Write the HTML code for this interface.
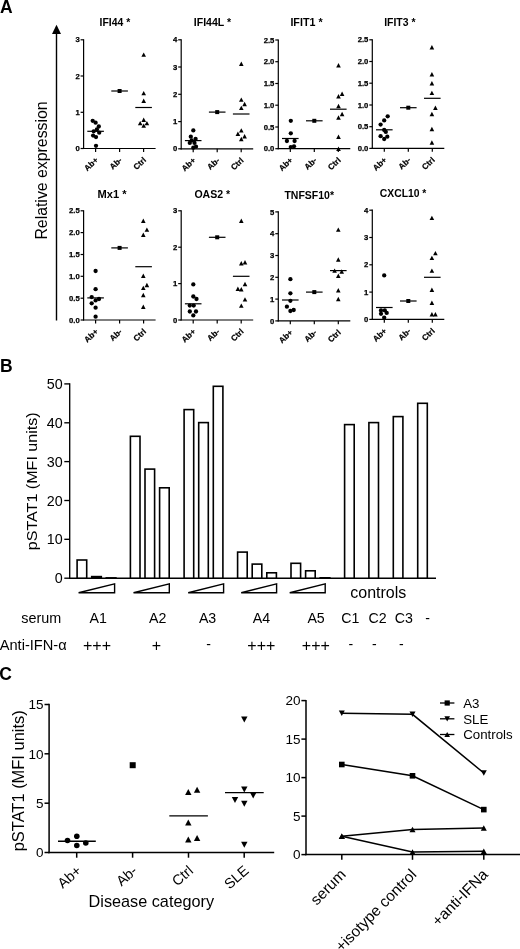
<!DOCTYPE html>
<html lang="en"><head><meta charset="utf-8"><title>Figure</title>
<style>html,body{margin:0;padding:0;background:#fff}svg{display:block;filter:blur(0.3px)}</style></head>
<body>
<svg width="520" height="949" viewBox="0 0 520 949" font-family="'Liberation Sans', sans-serif" fill="#000">
<rect width="520" height="949" fill="#fff"/>
<text x="0.1" y="12.6" font-size="17.5" font-weight="bold" text-anchor="start">A</text>
<text x="-0.1" y="371.6" font-size="17.5" font-weight="bold" text-anchor="start">B</text>
<text x="-0.8" y="679.5" font-size="17.5" font-weight="bold" text-anchor="start">C</text>
<line x1="56.5" y1="30.0" x2="56.5" y2="320.6" stroke="#000" stroke-width="1.4"/>
<polygon points="56.5,24.8 61,34 52,34"/>
<text x="47.0" y="239.6" font-size="16" text-anchor="start" transform="rotate(-90 47.0 239.6)" textLength="138.2" lengthAdjust="spacingAndGlyphs">Relative expression</text>
<line x1="83.6" y1="39.2" x2="83.6" y2="149.1" stroke="#000" stroke-width="1.2"/>
<line x1="83.0" y1="148.5" x2="155.6" y2="148.5" stroke="#000" stroke-width="1.2"/>
<line x1="80.6" y1="148.5" x2="83.6" y2="148.5" stroke="#000" stroke-width="1.2"/>
<text x="79.7" y="151.1" font-size="7.7" font-weight="bold" text-anchor="end" stroke="#000" stroke-width="0.25">0</text>
<line x1="80.6" y1="112.3" x2="83.6" y2="112.3" stroke="#000" stroke-width="1.2"/>
<text x="79.7" y="114.9" font-size="7.7" font-weight="bold" text-anchor="end" stroke="#000" stroke-width="0.25">1</text>
<line x1="80.6" y1="76.0" x2="83.6" y2="76.0" stroke="#000" stroke-width="1.2"/>
<text x="79.7" y="78.6" font-size="7.7" font-weight="bold" text-anchor="end" stroke="#000" stroke-width="0.25">2</text>
<line x1="80.6" y1="39.8" x2="83.6" y2="39.8" stroke="#000" stroke-width="1.2"/>
<text x="79.7" y="42.4" font-size="7.7" font-weight="bold" text-anchor="end" stroke="#000" stroke-width="0.25">3</text>
<line x1="95.6" y1="148.5" x2="95.6" y2="151.9" stroke="#000" stroke-width="1.2"/>
<text x="98.6" y="160.8" font-size="8.1" font-weight="bold" text-anchor="end" transform="rotate(-43 98.6 160.8)" stroke="#000" stroke-width="0.2">Ab+</text>
<line x1="119.6" y1="148.5" x2="119.6" y2="151.9" stroke="#000" stroke-width="1.2"/>
<text x="122.6" y="160.8" font-size="8.1" font-weight="bold" text-anchor="end" transform="rotate(-43 122.6 160.8)" stroke="#000" stroke-width="0.2">Ab-</text>
<line x1="143.6" y1="148.5" x2="143.6" y2="151.9" stroke="#000" stroke-width="1.2"/>
<text x="146.6" y="160.8" font-size="8.1" font-weight="bold" text-anchor="end" transform="rotate(-43 146.6 160.8)" stroke="#000" stroke-width="0.2">Ctrl</text>
<text x="99.6" y="26.2" font-size="10.4" font-weight="bold" text-anchor="start" textLength="30.6" lengthAdjust="spacingAndGlyphs">IFI44 *</text>
<circle cx="92.7" cy="120.8" r="2.15"/>
<circle cx="95.6" cy="122.7" r="2.15"/>
<circle cx="98.8" cy="126.5" r="2.15"/>
<circle cx="96.9" cy="129.4" r="2.15"/>
<circle cx="93.7" cy="131.3" r="2.15"/>
<circle cx="99.2" cy="132.7" r="2.15"/>
<circle cx="93.1" cy="135.6" r="2.15"/>
<circle cx="96.0" cy="137.1" r="2.15"/>
<circle cx="96.0" cy="145.8" r="2.15"/>
<line x1="87.3" y1="131.3" x2="103.9" y2="131.3" stroke="#000" stroke-width="1.2"/>
<rect x="117.6" y="89.0" width="4.0" height="4.0"/>
<line x1="111.3" y1="91.0" x2="127.9" y2="91.0" stroke="#000" stroke-width="1.2"/>
<polygon points="143.7,52.4 146.0,56.8 141.4,56.8"/>
<polygon points="143.7,90.9 146.0,95.3 141.4,95.3"/>
<polygon points="143.7,98.6 146.0,103.0 141.4,103.0"/>
<polygon points="143.7,117.6 146.0,122.0 141.4,122.0"/>
<polygon points="140.2,120.9 142.5,125.3 137.9,125.3"/>
<polygon points="146.9,120.9 149.2,125.3 144.6,125.3"/>
<polygon points="143.7,123.4 146.0,127.8 141.4,127.8"/>
<line x1="135.3" y1="107.5" x2="151.9" y2="107.5" stroke="#000" stroke-width="1.2"/>
<line x1="181.2" y1="39.2" x2="181.2" y2="149.4" stroke="#000" stroke-width="1.2"/>
<line x1="180.6" y1="148.8" x2="253.2" y2="148.8" stroke="#000" stroke-width="1.2"/>
<line x1="178.2" y1="148.8" x2="181.2" y2="148.8" stroke="#000" stroke-width="1.2"/>
<text x="177.3" y="151.4" font-size="7.7" font-weight="bold" text-anchor="end" stroke="#000" stroke-width="0.25">0</text>
<line x1="178.2" y1="121.6" x2="181.2" y2="121.6" stroke="#000" stroke-width="1.2"/>
<text x="177.3" y="124.2" font-size="7.7" font-weight="bold" text-anchor="end" stroke="#000" stroke-width="0.25">1</text>
<line x1="178.2" y1="94.3" x2="181.2" y2="94.3" stroke="#000" stroke-width="1.2"/>
<text x="177.3" y="96.9" font-size="7.7" font-weight="bold" text-anchor="end" stroke="#000" stroke-width="0.25">2</text>
<line x1="178.2" y1="67.0" x2="181.2" y2="67.0" stroke="#000" stroke-width="1.2"/>
<text x="177.3" y="69.6" font-size="7.7" font-weight="bold" text-anchor="end" stroke="#000" stroke-width="0.25">3</text>
<line x1="178.2" y1="39.8" x2="181.2" y2="39.8" stroke="#000" stroke-width="1.2"/>
<text x="177.3" y="42.4" font-size="7.7" font-weight="bold" text-anchor="end" stroke="#000" stroke-width="0.25">4</text>
<line x1="193.2" y1="148.8" x2="193.2" y2="152.2" stroke="#000" stroke-width="1.2"/>
<text x="196.2" y="161.1" font-size="8.1" font-weight="bold" text-anchor="end" transform="rotate(-43 196.2 161.1)" stroke="#000" stroke-width="0.2">Ab+</text>
<line x1="217.2" y1="148.8" x2="217.2" y2="152.2" stroke="#000" stroke-width="1.2"/>
<text x="220.2" y="161.1" font-size="8.1" font-weight="bold" text-anchor="end" transform="rotate(-43 220.2 161.1)" stroke="#000" stroke-width="0.2">Ab-</text>
<line x1="241.2" y1="148.8" x2="241.2" y2="152.2" stroke="#000" stroke-width="1.2"/>
<text x="244.2" y="161.1" font-size="8.1" font-weight="bold" text-anchor="end" transform="rotate(-43 244.2 161.1)" stroke="#000" stroke-width="0.2">Ctrl</text>
<text x="193.8" y="26.2" font-size="10.4" font-weight="bold" text-anchor="start" textLength="37.3" lengthAdjust="spacingAndGlyphs">IFI44L *</text>
<circle cx="193.3" cy="130.4" r="2.15"/>
<circle cx="190.8" cy="136.7" r="2.15"/>
<circle cx="195.6" cy="139.0" r="2.15"/>
<circle cx="191.7" cy="140.4" r="2.15"/>
<circle cx="189.8" cy="142.9" r="2.15"/>
<circle cx="194.5" cy="142.9" r="2.15"/>
<circle cx="196.0" cy="146.7" r="2.15"/>
<circle cx="193.3" cy="147.7" r="2.15"/>
<line x1="184.9" y1="140.6" x2="201.5" y2="140.6" stroke="#000" stroke-width="1.2"/>
<rect x="215.2" y="110.1" width="4.0" height="4.0"/>
<line x1="208.9" y1="112.1" x2="225.5" y2="112.1" stroke="#000" stroke-width="1.2"/>
<polygon points="241.3,61.5 243.6,65.9 239.0,65.9"/>
<polygon points="241.3,97.4 243.6,101.8 239.0,101.8"/>
<polygon points="244.6,101.8 246.9,106.2 242.3,106.2"/>
<polygon points="241.3,105.7 243.6,110.1 239.0,110.1"/>
<polygon points="241.3,128.2 243.6,132.6 239.0,132.6"/>
<polygon points="237.9,131.6 240.2,136.0 235.6,136.0"/>
<polygon points="244.6,134.0 246.9,138.4 242.3,138.4"/>
<polygon points="241.3,136.8 243.6,141.2 239.0,141.2"/>
<line x1="232.9" y1="114.0" x2="249.5" y2="114.0" stroke="#000" stroke-width="1.2"/>
<line x1="278.3" y1="39.4" x2="278.3" y2="149.3" stroke="#000" stroke-width="1.2"/>
<line x1="277.7" y1="148.7" x2="350.3" y2="148.7" stroke="#000" stroke-width="1.2"/>
<line x1="275.3" y1="148.7" x2="278.3" y2="148.7" stroke="#000" stroke-width="1.2"/>
<text x="274.4" y="151.3" font-size="7.7" font-weight="bold" text-anchor="end" stroke="#000" stroke-width="0.25">0.0</text>
<line x1="275.3" y1="127.0" x2="278.3" y2="127.0" stroke="#000" stroke-width="1.2"/>
<text x="274.4" y="129.6" font-size="7.7" font-weight="bold" text-anchor="end" stroke="#000" stroke-width="0.25">0.5</text>
<line x1="275.3" y1="105.2" x2="278.3" y2="105.2" stroke="#000" stroke-width="1.2"/>
<text x="274.4" y="107.8" font-size="7.7" font-weight="bold" text-anchor="end" stroke="#000" stroke-width="0.25">1.0</text>
<line x1="275.3" y1="83.5" x2="278.3" y2="83.5" stroke="#000" stroke-width="1.2"/>
<text x="274.4" y="86.1" font-size="7.7" font-weight="bold" text-anchor="end" stroke="#000" stroke-width="0.25">1.5</text>
<line x1="275.3" y1="61.7" x2="278.3" y2="61.7" stroke="#000" stroke-width="1.2"/>
<text x="274.4" y="64.3" font-size="7.7" font-weight="bold" text-anchor="end" stroke="#000" stroke-width="0.25">2.0</text>
<line x1="275.3" y1="40.0" x2="278.3" y2="40.0" stroke="#000" stroke-width="1.2"/>
<text x="274.4" y="42.6" font-size="7.7" font-weight="bold" text-anchor="end" stroke="#000" stroke-width="0.25">2.5</text>
<line x1="290.3" y1="148.7" x2="290.3" y2="152.1" stroke="#000" stroke-width="1.2"/>
<text x="293.3" y="161.0" font-size="8.1" font-weight="bold" text-anchor="end" transform="rotate(-43 293.3 161.0)" stroke="#000" stroke-width="0.2">Ab+</text>
<line x1="314.3" y1="148.7" x2="314.3" y2="152.1" stroke="#000" stroke-width="1.2"/>
<text x="317.3" y="161.0" font-size="8.1" font-weight="bold" text-anchor="end" transform="rotate(-43 317.3 161.0)" stroke="#000" stroke-width="0.2">Ab-</text>
<line x1="338.3" y1="148.7" x2="338.3" y2="152.1" stroke="#000" stroke-width="1.2"/>
<text x="341.3" y="161.0" font-size="8.1" font-weight="bold" text-anchor="end" transform="rotate(-43 341.3 161.0)" stroke="#000" stroke-width="0.2">Ctrl</text>
<text x="290.4" y="26.2" font-size="10.4" font-weight="bold" text-anchor="start" textLength="32.2" lengthAdjust="spacingAndGlyphs">IFIT1 *</text>
<circle cx="290.8" cy="120.8" r="2.15"/>
<circle cx="290.8" cy="133.3" r="2.15"/>
<circle cx="286.9" cy="141.0" r="2.15"/>
<circle cx="294.6" cy="141.0" r="2.15"/>
<circle cx="290.8" cy="147.1" r="2.15"/>
<circle cx="294.0" cy="146.3" r="2.15"/>
<line x1="282.0" y1="138.5" x2="298.6" y2="138.5" stroke="#000" stroke-width="1.2"/>
<rect x="312.3" y="118.8" width="4.0" height="4.0"/>
<line x1="306.0" y1="120.8" x2="322.6" y2="120.8" stroke="#000" stroke-width="1.2"/>
<polygon points="338.5,63.0 340.8,67.4 336.2,67.4"/>
<polygon points="338.5,94.1 340.8,98.5 336.2,98.5"/>
<polygon points="342.1,91.6 344.4,96.0 339.8,96.0"/>
<polygon points="338.5,103.8 340.8,108.2 336.2,108.2"/>
<polygon points="342.1,111.8 344.4,116.2 339.8,116.2"/>
<polygon points="338.5,115.3 340.8,119.7 336.2,119.7"/>
<polygon points="338.5,134.5 340.8,138.9 336.2,138.9"/>
<polygon points="338.5,146.5 340.8,150.9 336.2,150.9"/>
<line x1="330.0" y1="109.2" x2="346.6" y2="109.2" stroke="#000" stroke-width="1.2"/>
<line x1="372.3" y1="39.2" x2="372.3" y2="149.0" stroke="#000" stroke-width="1.2"/>
<line x1="371.7" y1="148.4" x2="444.3" y2="148.4" stroke="#000" stroke-width="1.2"/>
<line x1="369.3" y1="148.4" x2="372.3" y2="148.4" stroke="#000" stroke-width="1.2"/>
<text x="368.4" y="151.0" font-size="7.7" font-weight="bold" text-anchor="end" stroke="#000" stroke-width="0.25">0.0</text>
<line x1="369.3" y1="126.7" x2="372.3" y2="126.7" stroke="#000" stroke-width="1.2"/>
<text x="368.4" y="129.3" font-size="7.7" font-weight="bold" text-anchor="end" stroke="#000" stroke-width="0.25">0.5</text>
<line x1="369.3" y1="105.0" x2="372.3" y2="105.0" stroke="#000" stroke-width="1.2"/>
<text x="368.4" y="107.6" font-size="7.7" font-weight="bold" text-anchor="end" stroke="#000" stroke-width="0.25">1.0</text>
<line x1="369.3" y1="83.2" x2="372.3" y2="83.2" stroke="#000" stroke-width="1.2"/>
<text x="368.4" y="85.8" font-size="7.7" font-weight="bold" text-anchor="end" stroke="#000" stroke-width="0.25">1.5</text>
<line x1="369.3" y1="61.5" x2="372.3" y2="61.5" stroke="#000" stroke-width="1.2"/>
<text x="368.4" y="64.1" font-size="7.7" font-weight="bold" text-anchor="end" stroke="#000" stroke-width="0.25">2.0</text>
<line x1="369.3" y1="39.8" x2="372.3" y2="39.8" stroke="#000" stroke-width="1.2"/>
<text x="368.4" y="42.4" font-size="7.7" font-weight="bold" text-anchor="end" stroke="#000" stroke-width="0.25">2.5</text>
<line x1="384.3" y1="148.4" x2="384.3" y2="151.8" stroke="#000" stroke-width="1.2"/>
<text x="387.3" y="160.7" font-size="8.1" font-weight="bold" text-anchor="end" transform="rotate(-43 387.3 160.7)" stroke="#000" stroke-width="0.2">Ab+</text>
<line x1="408.3" y1="148.4" x2="408.3" y2="151.8" stroke="#000" stroke-width="1.2"/>
<text x="411.3" y="160.7" font-size="8.1" font-weight="bold" text-anchor="end" transform="rotate(-43 411.3 160.7)" stroke="#000" stroke-width="0.2">Ab-</text>
<line x1="432.3" y1="148.4" x2="432.3" y2="151.8" stroke="#000" stroke-width="1.2"/>
<text x="435.3" y="160.7" font-size="8.1" font-weight="bold" text-anchor="end" transform="rotate(-43 435.3 160.7)" stroke="#000" stroke-width="0.2">Ctrl</text>
<text x="384.2" y="26.2" font-size="10.4" font-weight="bold" text-anchor="start" textLength="31.3" lengthAdjust="spacingAndGlyphs">IFIT3 *</text>
<circle cx="387.7" cy="116.3" r="2.15"/>
<circle cx="384.2" cy="120.4" r="2.15"/>
<circle cx="380.6" cy="124.6" r="2.15"/>
<circle cx="384.2" cy="130.0" r="2.15"/>
<circle cx="385.8" cy="131.9" r="2.15"/>
<circle cx="380.6" cy="136.2" r="2.15"/>
<circle cx="387.3" cy="136.7" r="2.15"/>
<circle cx="384.2" cy="139.0" r="2.15"/>
<line x1="376.0" y1="129.8" x2="392.6" y2="129.8" stroke="#000" stroke-width="1.2"/>
<rect x="406.3" y="105.7" width="4.0" height="4.0"/>
<line x1="400.0" y1="107.7" x2="416.6" y2="107.7" stroke="#000" stroke-width="1.2"/>
<polygon points="431.9,45.1 434.2,49.5 429.6,49.5"/>
<polygon points="431.9,72.0 434.2,76.4 429.6,76.4"/>
<polygon points="431.9,81.1 434.2,85.5 429.6,85.5"/>
<polygon points="431.9,90.7 434.2,95.1 429.6,95.1"/>
<polygon points="435.4,105.5 437.7,109.9 433.1,109.9"/>
<polygon points="431.9,111.8 434.2,116.2 429.6,116.2"/>
<polygon points="431.9,126.8 434.2,131.2 429.6,131.2"/>
<polygon points="431.9,140.3 434.2,144.7 429.6,144.7"/>
<line x1="424.0" y1="98.3" x2="440.6" y2="98.3" stroke="#000" stroke-width="1.2"/>
<line x1="83.6" y1="210.2" x2="83.6" y2="320.6" stroke="#000" stroke-width="1.2"/>
<line x1="83.0" y1="320.0" x2="155.6" y2="320.0" stroke="#000" stroke-width="1.2"/>
<line x1="80.6" y1="320.0" x2="83.6" y2="320.0" stroke="#000" stroke-width="1.2"/>
<text x="79.7" y="322.6" font-size="7.7" font-weight="bold" text-anchor="end" stroke="#000" stroke-width="0.25">0.0</text>
<line x1="80.6" y1="298.2" x2="83.6" y2="298.2" stroke="#000" stroke-width="1.2"/>
<text x="79.7" y="300.8" font-size="7.7" font-weight="bold" text-anchor="end" stroke="#000" stroke-width="0.25">0.5</text>
<line x1="80.6" y1="276.3" x2="83.6" y2="276.3" stroke="#000" stroke-width="1.2"/>
<text x="79.7" y="278.9" font-size="7.7" font-weight="bold" text-anchor="end" stroke="#000" stroke-width="0.25">1.0</text>
<line x1="80.6" y1="254.5" x2="83.6" y2="254.5" stroke="#000" stroke-width="1.2"/>
<text x="79.7" y="257.1" font-size="7.7" font-weight="bold" text-anchor="end" stroke="#000" stroke-width="0.25">1.5</text>
<line x1="80.6" y1="232.6" x2="83.6" y2="232.6" stroke="#000" stroke-width="1.2"/>
<text x="79.7" y="235.2" font-size="7.7" font-weight="bold" text-anchor="end" stroke="#000" stroke-width="0.25">2.0</text>
<line x1="80.6" y1="210.8" x2="83.6" y2="210.8" stroke="#000" stroke-width="1.2"/>
<text x="79.7" y="213.4" font-size="7.7" font-weight="bold" text-anchor="end" stroke="#000" stroke-width="0.25">2.5</text>
<line x1="95.6" y1="320.0" x2="95.6" y2="323.4" stroke="#000" stroke-width="1.2"/>
<text x="98.6" y="332.3" font-size="8.1" font-weight="bold" text-anchor="end" transform="rotate(-43 98.6 332.3)" stroke="#000" stroke-width="0.2">Ab+</text>
<line x1="119.6" y1="320.0" x2="119.6" y2="323.4" stroke="#000" stroke-width="1.2"/>
<text x="122.6" y="332.3" font-size="8.1" font-weight="bold" text-anchor="end" transform="rotate(-43 122.6 332.3)" stroke="#000" stroke-width="0.2">Ab-</text>
<line x1="143.6" y1="320.0" x2="143.6" y2="323.4" stroke="#000" stroke-width="1.2"/>
<text x="146.6" y="332.3" font-size="8.1" font-weight="bold" text-anchor="end" transform="rotate(-43 146.6 332.3)" stroke="#000" stroke-width="0.2">Ctrl</text>
<text x="97.5" y="197.9" font-size="10.4" font-weight="bold" text-anchor="start" textLength="29" lengthAdjust="spacingAndGlyphs">Mx1 *</text>
<circle cx="95.6" cy="271.0" r="2.15"/>
<circle cx="95.6" cy="289.2" r="2.15"/>
<circle cx="91.7" cy="297.1" r="2.15"/>
<circle cx="99.0" cy="299.0" r="2.15"/>
<circle cx="95.6" cy="300.4" r="2.15"/>
<circle cx="91.7" cy="303.3" r="2.15"/>
<circle cx="95.6" cy="307.7" r="2.15"/>
<circle cx="95.6" cy="316.7" r="2.15"/>
<line x1="87.3" y1="297.9" x2="103.9" y2="297.9" stroke="#000" stroke-width="1.2"/>
<rect x="117.6" y="245.9" width="4.0" height="4.0"/>
<line x1="111.3" y1="247.9" x2="127.9" y2="247.9" stroke="#000" stroke-width="1.2"/>
<polygon points="143.3,218.6 145.6,223.0 141.0,223.0"/>
<polygon points="146.9,227.4 149.2,231.8 144.6,231.8"/>
<polygon points="143.3,232.6 145.6,237.0 141.0,237.0"/>
<polygon points="143.3,273.6 145.6,278.0 141.0,278.0"/>
<polygon points="146.9,282.8 149.2,287.2 144.6,287.2"/>
<polygon points="143.3,285.7 145.6,290.1 141.0,290.1"/>
<polygon points="143.3,292.8 145.6,297.2 141.0,297.2"/>
<polygon points="143.3,304.5 145.6,308.9 141.0,308.9"/>
<line x1="135.3" y1="266.7" x2="151.9" y2="266.7" stroke="#000" stroke-width="1.2"/>
<line x1="181.2" y1="210.2" x2="181.2" y2="320.6" stroke="#000" stroke-width="1.2"/>
<line x1="180.6" y1="320.0" x2="253.2" y2="320.0" stroke="#000" stroke-width="1.2"/>
<line x1="178.2" y1="320.0" x2="181.2" y2="320.0" stroke="#000" stroke-width="1.2"/>
<text x="177.3" y="322.6" font-size="7.7" font-weight="bold" text-anchor="end" stroke="#000" stroke-width="0.25">0</text>
<line x1="178.2" y1="283.6" x2="181.2" y2="283.6" stroke="#000" stroke-width="1.2"/>
<text x="177.3" y="286.2" font-size="7.7" font-weight="bold" text-anchor="end" stroke="#000" stroke-width="0.25">1</text>
<line x1="178.2" y1="247.2" x2="181.2" y2="247.2" stroke="#000" stroke-width="1.2"/>
<text x="177.3" y="249.8" font-size="7.7" font-weight="bold" text-anchor="end" stroke="#000" stroke-width="0.25">2</text>
<line x1="178.2" y1="210.8" x2="181.2" y2="210.8" stroke="#000" stroke-width="1.2"/>
<text x="177.3" y="213.4" font-size="7.7" font-weight="bold" text-anchor="end" stroke="#000" stroke-width="0.25">3</text>
<line x1="193.2" y1="320.0" x2="193.2" y2="323.4" stroke="#000" stroke-width="1.2"/>
<text x="196.2" y="332.3" font-size="8.1" font-weight="bold" text-anchor="end" transform="rotate(-43 196.2 332.3)" stroke="#000" stroke-width="0.2">Ab+</text>
<line x1="217.2" y1="320.0" x2="217.2" y2="323.4" stroke="#000" stroke-width="1.2"/>
<text x="220.2" y="332.3" font-size="8.1" font-weight="bold" text-anchor="end" transform="rotate(-43 220.2 332.3)" stroke="#000" stroke-width="0.2">Ab-</text>
<line x1="241.2" y1="320.0" x2="241.2" y2="323.4" stroke="#000" stroke-width="1.2"/>
<text x="244.2" y="332.3" font-size="8.1" font-weight="bold" text-anchor="end" transform="rotate(-43 244.2 332.3)" stroke="#000" stroke-width="0.2">Ctrl</text>
<text x="194.4" y="197.9" font-size="10.4" font-weight="bold" text-anchor="start" textLength="35.8" lengthAdjust="spacingAndGlyphs">OAS2 *</text>
<circle cx="193.3" cy="284.4" r="2.15"/>
<circle cx="193.3" cy="296.5" r="2.15"/>
<circle cx="196.5" cy="299.0" r="2.15"/>
<circle cx="189.8" cy="305.6" r="2.15"/>
<circle cx="193.7" cy="305.6" r="2.15"/>
<circle cx="189.8" cy="311.5" r="2.15"/>
<circle cx="196.0" cy="311.5" r="2.15"/>
<circle cx="193.3" cy="315.4" r="2.15"/>
<line x1="184.9" y1="303.8" x2="201.5" y2="303.8" stroke="#000" stroke-width="1.2"/>
<rect x="215.2" y="235.3" width="4.0" height="4.0"/>
<line x1="208.9" y1="237.3" x2="225.5" y2="237.3" stroke="#000" stroke-width="1.2"/>
<polygon points="241.3,218.6 243.6,223.0 239.0,223.0"/>
<polygon points="241.3,261.1 243.6,265.5 239.0,265.5"/>
<polygon points="245.0,260.1 247.3,264.5 242.7,264.5"/>
<polygon points="245.0,281.8 247.3,286.2 242.7,286.2"/>
<polygon points="237.9,286.6 240.2,291.0 235.6,291.0"/>
<polygon points="241.3,287.0 243.6,291.4 239.0,291.4"/>
<polygon points="245.0,297.2 247.3,301.6 242.7,301.6"/>
<polygon points="241.3,303.4 243.6,307.8 239.0,307.8"/>
<line x1="232.9" y1="276.3" x2="249.5" y2="276.3" stroke="#000" stroke-width="1.2"/>
<line x1="278.3" y1="211.3" x2="278.3" y2="321.5" stroke="#000" stroke-width="1.2"/>
<line x1="277.7" y1="320.9" x2="350.3" y2="320.9" stroke="#000" stroke-width="1.2"/>
<line x1="275.3" y1="320.9" x2="278.3" y2="320.9" stroke="#000" stroke-width="1.2"/>
<text x="274.4" y="323.5" font-size="7.7" font-weight="bold" text-anchor="end" stroke="#000" stroke-width="0.25">0</text>
<line x1="275.3" y1="299.1" x2="278.3" y2="299.1" stroke="#000" stroke-width="1.2"/>
<text x="274.4" y="301.7" font-size="7.7" font-weight="bold" text-anchor="end" stroke="#000" stroke-width="0.25">1</text>
<line x1="275.3" y1="277.3" x2="278.3" y2="277.3" stroke="#000" stroke-width="1.2"/>
<text x="274.4" y="279.9" font-size="7.7" font-weight="bold" text-anchor="end" stroke="#000" stroke-width="0.25">2</text>
<line x1="275.3" y1="255.5" x2="278.3" y2="255.5" stroke="#000" stroke-width="1.2"/>
<text x="274.4" y="258.1" font-size="7.7" font-weight="bold" text-anchor="end" stroke="#000" stroke-width="0.25">3</text>
<line x1="275.3" y1="233.7" x2="278.3" y2="233.7" stroke="#000" stroke-width="1.2"/>
<text x="274.4" y="236.3" font-size="7.7" font-weight="bold" text-anchor="end" stroke="#000" stroke-width="0.25">4</text>
<line x1="275.3" y1="211.9" x2="278.3" y2="211.9" stroke="#000" stroke-width="1.2"/>
<text x="274.4" y="214.5" font-size="7.7" font-weight="bold" text-anchor="end" stroke="#000" stroke-width="0.25">5</text>
<line x1="290.3" y1="320.9" x2="290.3" y2="324.3" stroke="#000" stroke-width="1.2"/>
<text x="293.3" y="333.2" font-size="8.1" font-weight="bold" text-anchor="end" transform="rotate(-43 293.3 333.2)" stroke="#000" stroke-width="0.2">Ab+</text>
<line x1="314.3" y1="320.9" x2="314.3" y2="324.3" stroke="#000" stroke-width="1.2"/>
<text x="317.3" y="333.2" font-size="8.1" font-weight="bold" text-anchor="end" transform="rotate(-43 317.3 333.2)" stroke="#000" stroke-width="0.2">Ab-</text>
<line x1="338.3" y1="320.9" x2="338.3" y2="324.3" stroke="#000" stroke-width="1.2"/>
<text x="341.3" y="333.2" font-size="8.1" font-weight="bold" text-anchor="end" transform="rotate(-43 341.3 333.2)" stroke="#000" stroke-width="0.2">Ctrl</text>
<text x="284.4" y="198.6" font-size="10.4" font-weight="bold" text-anchor="start" textLength="49.6" lengthAdjust="spacingAndGlyphs">TNFSF10*</text>
<circle cx="290.4" cy="279.2" r="2.15"/>
<circle cx="290.4" cy="293.3" r="2.15"/>
<circle cx="290.4" cy="300.8" r="2.15"/>
<circle cx="286.9" cy="306.7" r="2.15"/>
<circle cx="293.7" cy="310.0" r="2.15"/>
<circle cx="290.4" cy="311.0" r="2.15"/>
<line x1="282.0" y1="300.0" x2="298.6" y2="300.0" stroke="#000" stroke-width="1.2"/>
<rect x="312.3" y="290.1" width="4.0" height="4.0"/>
<line x1="306.0" y1="292.1" x2="322.6" y2="292.1" stroke="#000" stroke-width="1.2"/>
<polygon points="338.3,227.4 340.6,231.8 336.0,231.8"/>
<polygon points="338.3,257.3 340.6,261.7 336.0,261.7"/>
<polygon points="334.6,268.4 336.9,272.8 332.3,272.8"/>
<polygon points="341.7,269.3 344.0,273.7 339.4,273.7"/>
<polygon points="338.3,273.6 340.6,278.0 336.0,278.0"/>
<polygon points="338.3,288.0 340.6,292.4 336.0,292.4"/>
<polygon points="338.3,296.8 340.6,301.2 336.0,301.2"/>
<line x1="330.0" y1="270.6" x2="346.6" y2="270.6" stroke="#000" stroke-width="1.2"/>
<line x1="372.3" y1="209.6" x2="372.3" y2="320.0" stroke="#000" stroke-width="1.2"/>
<line x1="371.7" y1="319.4" x2="444.3" y2="319.4" stroke="#000" stroke-width="1.2"/>
<line x1="369.3" y1="319.4" x2="372.3" y2="319.4" stroke="#000" stroke-width="1.2"/>
<text x="368.4" y="322.0" font-size="7.7" font-weight="bold" text-anchor="end" stroke="#000" stroke-width="0.25">0</text>
<line x1="369.3" y1="292.1" x2="372.3" y2="292.1" stroke="#000" stroke-width="1.2"/>
<text x="368.4" y="294.7" font-size="7.7" font-weight="bold" text-anchor="end" stroke="#000" stroke-width="0.25">1</text>
<line x1="369.3" y1="264.8" x2="372.3" y2="264.8" stroke="#000" stroke-width="1.2"/>
<text x="368.4" y="267.4" font-size="7.7" font-weight="bold" text-anchor="end" stroke="#000" stroke-width="0.25">2</text>
<line x1="369.3" y1="237.5" x2="372.3" y2="237.5" stroke="#000" stroke-width="1.2"/>
<text x="368.4" y="240.1" font-size="7.7" font-weight="bold" text-anchor="end" stroke="#000" stroke-width="0.25">3</text>
<line x1="369.3" y1="210.2" x2="372.3" y2="210.2" stroke="#000" stroke-width="1.2"/>
<text x="368.4" y="212.8" font-size="7.7" font-weight="bold" text-anchor="end" stroke="#000" stroke-width="0.25">4</text>
<line x1="384.3" y1="319.4" x2="384.3" y2="322.8" stroke="#000" stroke-width="1.2"/>
<text x="387.3" y="331.7" font-size="8.1" font-weight="bold" text-anchor="end" transform="rotate(-43 387.3 331.7)" stroke="#000" stroke-width="0.2">Ab+</text>
<line x1="408.3" y1="319.4" x2="408.3" y2="322.8" stroke="#000" stroke-width="1.2"/>
<text x="411.3" y="331.7" font-size="8.1" font-weight="bold" text-anchor="end" transform="rotate(-43 411.3 331.7)" stroke="#000" stroke-width="0.2">Ab-</text>
<line x1="432.3" y1="319.4" x2="432.3" y2="322.8" stroke="#000" stroke-width="1.2"/>
<text x="435.3" y="331.7" font-size="8.1" font-weight="bold" text-anchor="end" transform="rotate(-43 435.3 331.7)" stroke="#000" stroke-width="0.2">Ctrl</text>
<text x="379.8" y="197.4" font-size="10.4" font-weight="bold" text-anchor="start" textLength="46.6" lengthAdjust="spacingAndGlyphs">CXCL10 *</text>
<circle cx="384.2" cy="275.4" r="2.15"/>
<circle cx="381.0" cy="310.4" r="2.15"/>
<circle cx="384.8" cy="310.4" r="2.15"/>
<circle cx="386.7" cy="312.9" r="2.15"/>
<circle cx="381.0" cy="313.8" r="2.15"/>
<circle cx="384.2" cy="317.7" r="2.15"/>
<line x1="376.0" y1="307.5" x2="392.6" y2="307.5" stroke="#000" stroke-width="1.2"/>
<rect x="406.3" y="299.0" width="4.0" height="4.0"/>
<line x1="400.0" y1="301.0" x2="416.6" y2="301.0" stroke="#000" stroke-width="1.2"/>
<polygon points="431.9,215.7 434.2,220.1 429.6,220.1"/>
<polygon points="435.4,250.9 437.7,255.3 433.1,255.3"/>
<polygon points="431.9,255.7 434.2,260.1 429.6,260.1"/>
<polygon points="431.9,268.4 434.2,272.8 429.6,272.8"/>
<polygon points="431.9,287.6 434.2,292.0 429.6,292.0"/>
<polygon points="431.9,300.5 434.2,304.9 429.6,304.9"/>
<polygon points="431.9,312.0 434.2,316.4 429.6,316.4"/>
<polygon points="435.4,312.0 437.7,316.4 433.1,316.4"/>
<line x1="424.0" y1="277.3" x2="440.6" y2="277.3" stroke="#000" stroke-width="1.2"/>
<line x1="69.7" y1="383.3" x2="69.7" y2="578.8" stroke="#000" stroke-width="1.35"/>
<line x1="69.1" y1="578.2" x2="436.0" y2="578.2" stroke="#000" stroke-width="1.35"/>
<line x1="64.3" y1="578.2" x2="69.7" y2="578.2" stroke="#000" stroke-width="1.35"/>
<text x="62.7" y="583.3" font-size="14.3" text-anchor="end">0</text>
<line x1="64.3" y1="539.3" x2="69.7" y2="539.3" stroke="#000" stroke-width="1.35"/>
<text x="62.7" y="544.4" font-size="14.3" text-anchor="end">10</text>
<line x1="64.3" y1="500.5" x2="69.7" y2="500.5" stroke="#000" stroke-width="1.35"/>
<text x="62.7" y="505.6" font-size="14.3" text-anchor="end">20</text>
<line x1="64.3" y1="461.6" x2="69.7" y2="461.6" stroke="#000" stroke-width="1.35"/>
<text x="62.7" y="466.7" font-size="14.3" text-anchor="end">30</text>
<line x1="64.3" y1="422.8" x2="69.7" y2="422.8" stroke="#000" stroke-width="1.35"/>
<text x="62.7" y="427.9" font-size="14.3" text-anchor="end">40</text>
<line x1="64.3" y1="383.9" x2="69.7" y2="383.9" stroke="#000" stroke-width="1.35"/>
<text x="62.7" y="389.0" font-size="14.3" text-anchor="end">50</text>
<text x="37.0" y="550.3" font-size="15.1" text-anchor="start" transform="rotate(-90 37.0 550.3)" textLength="138" lengthAdjust="spacingAndGlyphs">pSTAT1 (MFI units)</text>
<rect x="77.10" y="560.00" width="9.60" height="18.20" fill="#fff" stroke="#000" stroke-width="1.6"/>
<rect x="91.70" y="576.60" width="9.60" height="1.60" fill="#fff" stroke="#000" stroke-width="1.6"/>
<rect x="105.5" y="577.1" width="11.2" height="1.1"/>
<rect x="130.40" y="436.30" width="9.60" height="141.90" fill="#fff" stroke="#000" stroke-width="1.6"/>
<rect x="145.00" y="469.10" width="9.60" height="109.10" fill="#fff" stroke="#000" stroke-width="1.6"/>
<rect x="159.60" y="487.80" width="9.60" height="90.40" fill="#fff" stroke="#000" stroke-width="1.6"/>
<rect x="184.10" y="409.60" width="9.60" height="168.60" fill="#fff" stroke="#000" stroke-width="1.6"/>
<rect x="198.70" y="422.60" width="9.60" height="155.60" fill="#fff" stroke="#000" stroke-width="1.6"/>
<rect x="213.30" y="386.30" width="9.60" height="191.90" fill="#fff" stroke="#000" stroke-width="1.6"/>
<rect x="237.60" y="552.10" width="9.60" height="26.10" fill="#fff" stroke="#000" stroke-width="1.6"/>
<rect x="252.20" y="564.10" width="9.60" height="14.10" fill="#fff" stroke="#000" stroke-width="1.6"/>
<rect x="266.80" y="572.80" width="9.60" height="5.40" fill="#fff" stroke="#000" stroke-width="1.6"/>
<rect x="291.00" y="563.30" width="9.60" height="14.90" fill="#fff" stroke="#000" stroke-width="1.6"/>
<rect x="305.60" y="570.80" width="9.60" height="7.40" fill="#fff" stroke="#000" stroke-width="1.6"/>
<rect x="319.4" y="577.0" width="11.2" height="1.2"/>
<rect x="344.60" y="424.60" width="9.60" height="153.60" fill="#fff" stroke="#000" stroke-width="1.6"/>
<rect x="368.90" y="422.60" width="9.60" height="155.60" fill="#fff" stroke="#000" stroke-width="1.6"/>
<rect x="393.30" y="416.60" width="9.60" height="161.60" fill="#fff" stroke="#000" stroke-width="1.6"/>
<rect x="417.70" y="403.30" width="9.60" height="174.90" fill="#fff" stroke="#000" stroke-width="1.6"/>
<polygon points="78.6,592.8 114.60000000000001,592.8 114.60000000000001,583.8" fill="#fff" stroke="#000" stroke-width="1.4" stroke-linejoin="miter"/>
<polygon points="133.5,592.8 169.3,592.8 169.3,583.8" fill="#fff" stroke="#000" stroke-width="1.4" stroke-linejoin="miter"/>
<polygon points="188.20000000000002,592.8 223.6,592.8 223.6,583.8" fill="#fff" stroke="#000" stroke-width="1.4" stroke-linejoin="miter"/>
<polygon points="241.20000000000002,592.8 276.59999999999997,592.8 276.59999999999997,583.8" fill="#fff" stroke="#000" stroke-width="1.4" stroke-linejoin="miter"/>
<polygon points="289.7,592.8 325.2,592.8 325.2,583.8" fill="#fff" stroke="#000" stroke-width="1.4" stroke-linejoin="miter"/>
<text x="378.3" y="598.0" font-size="16" text-anchor="middle">controls</text>
<text x="41.3" y="622.7" font-size="14.4" text-anchor="middle">serum</text>
<text x="98.3" y="622.7" font-size="14.2" text-anchor="middle">A1</text>
<text x="157.8" y="622.7" font-size="14.2" text-anchor="middle">A2</text>
<text x="207.6" y="622.7" font-size="14.2" text-anchor="middle">A3</text>
<text x="261.5" y="622.7" font-size="14.2" text-anchor="middle">A4</text>
<text x="316.1" y="622.7" font-size="14.2" text-anchor="middle">A5</text>
<text x="350.4" y="622.7" font-size="14.2" text-anchor="middle">C1</text>
<text x="377.6" y="622.7" font-size="14.2" text-anchor="middle">C2</text>
<text x="403.8" y="622.7" font-size="14.2" text-anchor="middle">C3</text>
<text x="427.6" y="622.7" font-size="14" text-anchor="middle">-</text>
<text x="-0.3" y="649.7" font-size="14.2" text-anchor="start" textLength="67" lengthAdjust="spacingAndGlyphs">Anti-IFN-α</text>
<text x="97.0" y="651.0" font-size="16" text-anchor="middle">+++</text>
<text x="261.3" y="651.0" font-size="16" text-anchor="middle">+++</text>
<text x="315.8" y="651.0" font-size="16" text-anchor="middle">+++</text>
<text x="156.4" y="651.0" font-size="16" text-anchor="middle">+</text>
<text x="208.6" y="649.1" font-size="14" text-anchor="middle">-</text>
<text x="350.9" y="649.1" font-size="14" text-anchor="middle">-</text>
<text x="374.4" y="649.1" font-size="14" text-anchor="middle">-</text>
<text x="401.4" y="649.1" font-size="14" text-anchor="middle">-</text>
<line x1="49.1" y1="703.8" x2="49.1" y2="853.2" stroke="#000" stroke-width="1.5"/>
<line x1="48.4" y1="852.5" x2="274.2" y2="852.5" stroke="#000" stroke-width="1.5"/>
<line x1="44.5" y1="852.5" x2="49.1" y2="852.5" stroke="#000" stroke-width="1.5"/>
<text x="43.5" y="857.3" font-size="13.5" text-anchor="end">0</text>
<line x1="44.5" y1="803.2" x2="49.1" y2="803.2" stroke="#000" stroke-width="1.5"/>
<text x="43.5" y="808.0" font-size="13.5" text-anchor="end">5</text>
<line x1="44.5" y1="753.8" x2="49.1" y2="753.8" stroke="#000" stroke-width="1.5"/>
<text x="43.5" y="758.6" font-size="13.5" text-anchor="end">10</text>
<line x1="44.5" y1="704.5" x2="49.1" y2="704.5" stroke="#000" stroke-width="1.5"/>
<text x="43.5" y="709.3" font-size="13.5" text-anchor="end">15</text>
<text x="24.4" y="851.3" font-size="15.6" text-anchor="start" transform="rotate(-90 24.4 851.3)" textLength="141" lengthAdjust="spacingAndGlyphs">pSTAT1 (MFI units)</text>
<line x1="76.7" y1="852.5" x2="76.7" y2="857.7" stroke="#000" stroke-width="1.5"/>
<text x="82.3" y="872.1" font-size="14.3" text-anchor="end" transform="rotate(-41 82.3 872.1)">Ab+</text>
<line x1="132.6" y1="852.5" x2="132.6" y2="857.7" stroke="#000" stroke-width="1.5"/>
<text x="138.2" y="872.1" font-size="14.3" text-anchor="end" transform="rotate(-41 138.2 872.1)">Ab-</text>
<line x1="188.5" y1="852.5" x2="188.5" y2="857.7" stroke="#000" stroke-width="1.5"/>
<text x="194.1" y="872.1" font-size="14.3" text-anchor="end" transform="rotate(-41 194.1 872.1)">Ctrl</text>
<line x1="244.2" y1="852.5" x2="244.2" y2="857.7" stroke="#000" stroke-width="1.5"/>
<text x="249.8" y="872.1" font-size="14.3" text-anchor="end" transform="rotate(-41 249.8 872.1)">SLE</text>
<text x="151.3" y="906.6" font-size="16.1" text-anchor="middle" textLength="125.4" lengthAdjust="spacingAndGlyphs">Disease category</text>
<circle cx="67.5" cy="840.5" r="2.8"/>
<circle cx="76.8" cy="836.3" r="2.8"/>
<circle cx="85.8" cy="843.0" r="2.8"/>
<circle cx="76.8" cy="845.5" r="2.8"/>
<line x1="58.0" y1="841.3" x2="95.8" y2="841.3" stroke="#000" stroke-width="1.4"/>
<rect x="129.7" y="762.2" width="6" height="6"/>
<polygon points="188.3,789.0 191.5,795.0 185.1,795.0"/>
<polygon points="197.1,786.7 200.3,792.7 193.9,792.7"/>
<polygon points="188.3,819.4 191.5,825.4 185.1,825.4"/>
<polygon points="188.3,836.4 191.5,842.4 185.1,842.4"/>
<polygon points="197.1,835.1 200.3,841.1 193.9,841.1"/>
<line x1="169.3" y1="815.9" x2="207.9" y2="815.9" stroke="#000" stroke-width="1.4"/>
<polygon points="244.3,722.4 247.5,716.4 241.1,716.4"/>
<polygon points="244.3,792.6 247.5,786.6 241.1,786.6"/>
<polygon points="253.2,798.4 256.4,792.4 250.0,792.4"/>
<polygon points="235.0,803.0 238.2,797.0 231.8,797.0"/>
<polygon points="244.3,806.8 247.5,800.8 241.1,800.8"/>
<polygon points="244.3,847.8 247.5,841.8 241.1,841.8"/>
<line x1="225.0" y1="792.6" x2="263.7" y2="792.6" stroke="#000" stroke-width="1.4"/>
<line x1="306.0" y1="699.9" x2="306.0" y2="855.3" stroke="#000" stroke-width="1.5"/>
<line x1="305.3" y1="854.6" x2="520.0" y2="854.6" stroke="#000" stroke-width="1.5"/>
<line x1="301.4" y1="854.6" x2="306.0" y2="854.6" stroke="#000" stroke-width="1.5"/>
<text x="300.6" y="859.4" font-size="13.5" text-anchor="end">0</text>
<line x1="301.4" y1="816.1" x2="306.0" y2="816.1" stroke="#000" stroke-width="1.5"/>
<text x="300.6" y="820.9" font-size="13.5" text-anchor="end">5</text>
<line x1="301.4" y1="777.6" x2="306.0" y2="777.6" stroke="#000" stroke-width="1.5"/>
<text x="300.6" y="782.4" font-size="13.5" text-anchor="end">10</text>
<line x1="301.4" y1="739.1" x2="306.0" y2="739.1" stroke="#000" stroke-width="1.5"/>
<text x="300.6" y="743.9" font-size="13.5" text-anchor="end">15</text>
<line x1="301.4" y1="700.6" x2="306.0" y2="700.6" stroke="#000" stroke-width="1.5"/>
<text x="300.6" y="705.4" font-size="13.5" text-anchor="end">20</text>
<line x1="341.8" y1="854.6" x2="341.8" y2="859.8" stroke="#000" stroke-width="1.5"/>
<text x="346.8" y="875.4" font-size="15.4" text-anchor="end" transform="rotate(-45.5 346.8 875.4)">serum</text>
<line x1="412.5" y1="854.6" x2="412.5" y2="859.8" stroke="#000" stroke-width="1.5"/>
<text x="417.5" y="875.4" font-size="15.4" text-anchor="end" transform="rotate(-45.5 417.5 875.4)">+isotype control</text>
<line x1="483.8" y1="854.6" x2="483.8" y2="859.8" stroke="#000" stroke-width="1.5"/>
<text x="488.8" y="875.4" font-size="15.4" text-anchor="end" transform="rotate(-45.5 488.8 875.4)">+anti-IFNa</text>
<polyline points="341.8,713.3 412.5,714.3 483.8,773.0" fill="none" stroke="#000" stroke-width="1.5"/>
<polyline points="341.8,764.5 412.5,775.8 483.8,809.6" fill="none" stroke="#000" stroke-width="1.5"/>
<polyline points="341.8,836.3 412.5,829.5 483.8,828.0" fill="none" stroke="#000" stroke-width="1.5"/>
<polyline points="341.8,836.3 412.5,852.0 483.8,851.3" fill="none" stroke="#000" stroke-width="1.5"/>
<polygon points="341.8,716.1 344.8,710.5 338.8,710.5"/>
<polygon points="412.5,717.1 415.5,711.5 409.5,711.5"/>
<polygon points="483.8,775.8 486.8,770.2 480.8,770.2"/>
<rect x="339.0" y="761.7" width="5.6" height="5.6"/>
<rect x="409.7" y="773.0" width="5.6" height="5.6"/>
<rect x="481.0" y="806.8" width="5.6" height="5.6"/>
<polygon points="341.8,833.5 344.8,839.1 338.8,839.1"/>
<polygon points="412.5,826.7 415.5,832.3 409.5,832.3"/>
<polygon points="483.8,825.2 486.8,830.8 480.8,830.8"/>
<polygon points="341.8,833.5 344.8,839.1 338.8,839.1"/>
<polygon points="412.5,849.2 415.5,854.8 409.5,854.8"/>
<polygon points="483.8,848.5 486.8,854.1 480.8,854.1"/>
<line x1="440.0" y1="703.0" x2="454.4" y2="703.0" stroke="#000" stroke-width="1.3"/>
<rect x="444.6" y="700.4" width="5.2" height="5.2"/>
<text x="463.2" y="707.8" font-size="13.3" text-anchor="start">A3</text>
<line x1="440.0" y1="718.8" x2="454.4" y2="718.8" stroke="#000" stroke-width="1.3"/>
<polygon points="447.2,721.4 450.0,716.2 444.4,716.2"/>
<text x="463.2" y="723.5" font-size="13.3" text-anchor="start">SLE</text>
<line x1="440.0" y1="734.5" x2="454.4" y2="734.5" stroke="#000" stroke-width="1.3"/>
<polygon points="447.2,731.9 450.0,737.1 444.4,737.1"/>
<text x="463.2" y="739.2" font-size="13.3" text-anchor="start">Controls</text>
</svg>
</body></html>
